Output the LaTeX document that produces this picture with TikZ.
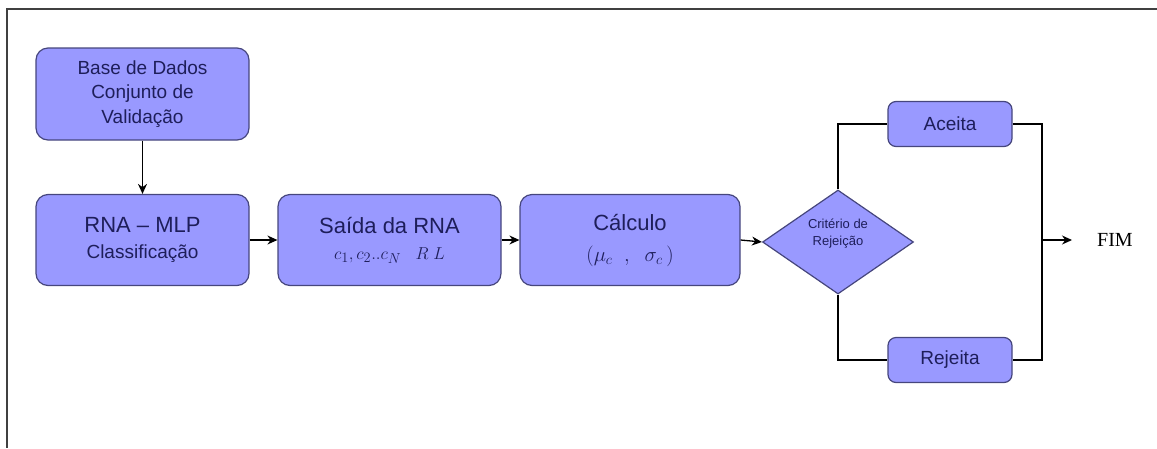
\documentclass[tikz,border=0pt]{standalone}
\usepackage{fontspec}
\setmainfont{Liberation Sans}
\newfontfamily\lserif{Liberation Serif}
\usetikzlibrary{shapes.geometric,arrows.meta,calc}
\definecolor{boxfill}{RGB}{153,153,255}
\definecolor{boxline}{RGB}{70,70,125}
\definecolor{boxtext}{RGB}{30,30,90}
\tikzset{
  blk/.style={draw=boxline, line width=1.2pt, fill=boxfill, rounded corners=12pt,
    text=boxtext, align=center, inner sep=0pt},
  sblk/.style={blk, rounded corners=8pt, minimum width=124pt, minimum height=45pt,
    font=\fontsize{19}{23}\selectfont},
  dec/.style={draw=boxline, line width=1.2pt, fill=boxfill, shape=diamond, aspect=1.45,
    minimum width=151pt, minimum height=104pt, inner sep=0pt, text=boxtext, align=center},
  conn/.style={draw=black, line width=1.3pt},
  arr/.style={conn, -{Stealth[length=10pt,width=9pt]}},
}
\begin{document}
\begin{tikzpicture}[x=1pt,y=-1pt]
\useasboundingbox (0,0) rectangle (1157,448);
\draw[line width=1.6pt, draw=black!75] (1157,9) -- (7,9) -- (7,448);

\node[blk, minimum width=213pt, minimum height=92pt, font=\fontsize{19}{23}\selectfont] (base) at (142.5,94)
  {Base de Dados\\[1.5pt]Conjunto de\\[1.5pt]Validação};
\node[blk, minimum width=213pt, minimum height=91pt, font=\fontsize{22}{26}\selectfont] (rna) at (142.5,240)
  {RNA – MLP\\\fontsize{19}{23}\selectfont Classificação};
\node[blk, minimum width=223pt, minimum height=91pt, font=\fontsize{22}{26}\selectfont] (saida) at (389.5,240)
  {Saída da RNA\\\fontsize{19}{22}\selectfont $c_1,c_2..c_N\;\;\;R\;L$};
\node[blk, minimum width=220pt, minimum height=91pt, font=\fontsize{22}{26}\selectfont] (calc) at (630,240)
  {Cálculo\\[5pt]\fontsize{20}{22}\selectfont $(\mu_c\;\;,\;\;\sigma_c\,)$};
\node[dec, font=\fontsize{13}{17}\selectfont] (crit) at (838,242)
  {Critério de\\Rejeição\\[2pt]};
\node[sblk] (aceita) at (950,124) {Aceita};
\node[sblk] (rejeita) at (950,360) {Rejeita};
\node[inner xsep=25pt, inner ysep=0pt, anchor=west, font=\lserif\fontsize{20}{24}\selectfont] (fim) at (1072,240)
  {FIM};

\coordinate (jt) at (1042,124);
\coordinate (jb) at (1042,360);
\coordinate (jm) at (1042,240);

\draw[arr] (base.south) -- (rna.north);
\draw[arr] (rna.east) -- (saida.west);
\draw[arr] (saida.east) -- (calc.west);
\draw[arr] (calc.east) -- (crit.west);
\draw[conn] (crit.north) |- (aceita.west);
\draw[conn] (crit.south) |- (rejeita.west);
\draw[conn] (aceita.east) -- (jt) -- (jb) -- (rejeita.east);
\draw[arr] (jm) -- (fim.west);
\end{tikzpicture}
\end{document}
